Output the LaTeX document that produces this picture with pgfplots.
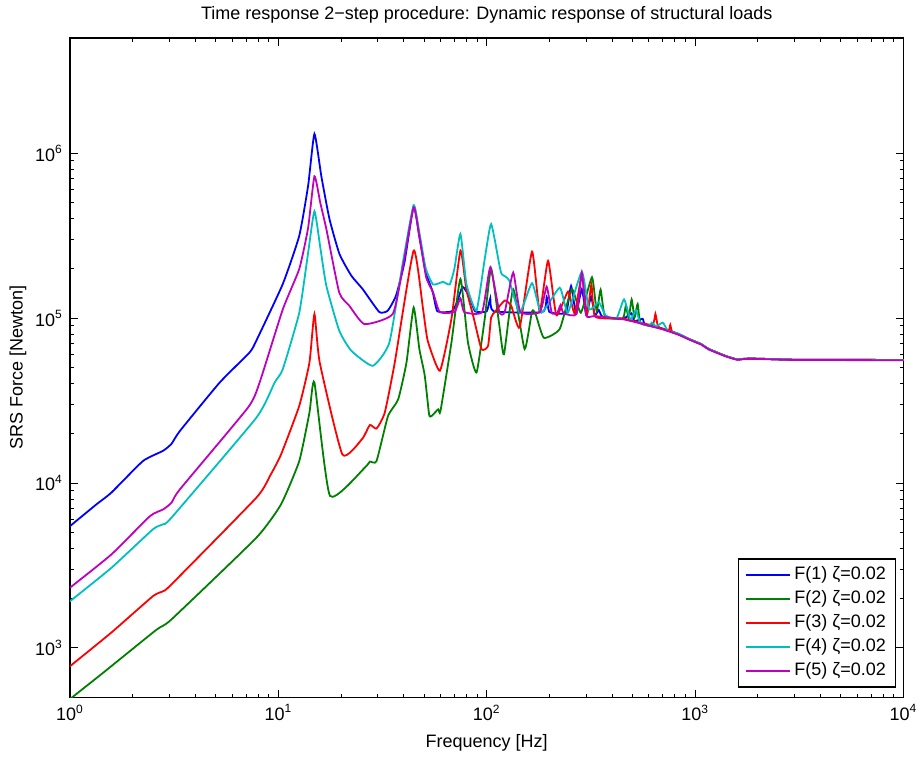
\documentclass[border=0pt]{standalone}
\usepackage{fontspec}
\setmainfont{Liberation Sans}
\usepackage{pgfplots}
\pgfplotsset{compat=1.18}
\definecolor{mblue}{rgb}{0,0,1}
\definecolor{mgreen}{rgb}{0,0.5,0}
\definecolor{mred}{rgb}{1,0,0}
\definecolor{mcyan}{rgb}{0,0.75,0.75}
\definecolor{mmag}{rgb}{0.75,0,0.75}
\begin{document}
\begin{tikzpicture}
\begin{loglogaxis}[
  name=ax,
  scale only axis,
  width=417pt, height=330pt,
  xmin=1, xmax=10000, ymin=500, ymax=5e6,
  font=\fontsize{9}{11}\selectfont,
  axis line style={line width=0.6pt},
  every tick/.style={black, line width=0.5pt},
  major tick length=4pt, minor tick length=2pt,
  tick align=inside, xtick pos=both, ytick pos=both,
  xtick={1,10,100,1000,10000},
  xticklabels={10\textsuperscript{0},10\textsuperscript{1},10\textsuperscript{2},10\textsuperscript{3},10\textsuperscript{4}},
  ytick={1000,10000,100000,1000000},
  yticklabels={10\textsuperscript{3},10\textsuperscript{4},10\textsuperscript{5},10\textsuperscript{6}},
  title={Time response 2\textminus step procedure: Dynamic response of structural loads},
  every axis title/.style={at={(axis description cs:0.5,1.0348)}, anchor=center},
  xlabel={Frequency [Hz]},
  xlabel style={at={(axis description cs:0.5,-0.0682)}, anchor=center},
  ylabel={SRS Force [Newton]},
  ylabel style={at={(axis description cs:-0.0624,0.5)}, anchor=center},
  legend cell align=left,
  legend style={at={(rel axis cs:0.9916,0.01515)}, anchor=south east, line width=0.6pt,
    draw=black, fill=white, row sep=0pt,
    nodes={inner ysep=1.35pt, text height=7pt, text depth=2.3pt}},
  legend image code/.code={\path (-3pt,0pt) -- (19pt,0pt); \draw[#1] (0pt,0pt) -- (15pt,0pt);},
  every axis plot/.append style={line width=0.9pt, smooth, tension=0.3},
]
\addplot[mblue] coordinates {(1,5480) (1.34,7430) (1.58,8750) (2.24,13600) (2.8,15700) (3.07,17300) (3.37,20700) (5.23,40700) (7.28,62000) (7.84,73000) (10.5,161000) (12.6,316000) (13.9,637000) (14.9,1310000) (16.1,720000) (17.6,399000) (19.65,245000) (22.4,181000) (25.4,150000) (30.5,109000) (33.5,111000) (36.7,137000) (40.3,218000) (44.6,476000) (47.5,310000) (51,190000) (55,145000) (58,110000) (68,110000) (72,125000) (76.6,155000) (82.5,135000) (88,110000) (100,110000) (104,132000) (108,110000) (185,109000) (194,134000) (200,109000) (240,108000) (254,157000) (268,107000) (286,150000) (300,106000) (317,135000) (330,104000) (345,112000) (360,102000) (450,99000) (495,107000) (510,96000) (560,99000) (575,92000) (700,86000) (828,80000) (933,74700) (1071,69500) (1164,65000) (1400,59000) (1589,56200) (1750,56800) (2000,56800) (3000,56000) (10000,55800)};
\addlegendentry{F(1) ζ=0.02}
\addplot[mgreen] coordinates {(1,490) (1.44,706) (2.6,1290) (3.07,1490) (7.84,4660) (10.3,7430) (12.6,13600) (14.1,26700) (14.9,40700) (17.7,8360) (26.0,12400) (27.5,13500) (29.6,13600) (33.6,25500) (37.6,32200) (41.2,53800) (44.6,116000) (47.5,65000) (50.4,45000) (52.9,26100) (54.3,25500) (58.5,28000) (60,27400) (67.7,71000) (74.8,173000) (81.3,71000) (89.3,46800) (97.8,99000) (105,200000) (115,90000) (121,60400) (134,150000) (152,65000) (165,110000) (172,105000) (188,76000) (224,86000) (256,150000) (283,108000) (320,177000) (337,110000) (352,149000) (370,102000) (450,100000) (465,119000) (480,100000) (496,130000) (512,101000) (530,122000) (550,93000) (700,86500) (828,80500) (933,75000) (1071,69500) (1164,65000) (1400,59000) (1589,56200) (1750,56800) (2000,56800) (3000,56000) (10000,55800)};
\addlegendentry{F(2) ζ=0.02}
\addplot[mred] coordinates {(1,775) (1.58,1240) (2.5,2060) (2.8,2210) (3.07,2430) (7.84,8150) (9.1,11000) (10.3,14900) (12.6,29400) (14.1,53800) (14.9,106000) (15.8,53800) (20.3,14900) (25.3,18600) (27.5,22500) (29.6,21400) (32.4,26700) (36.2,53800) (44.6,257000) (49.5,113000) (52.1,73000) (59.6,48000) (67.7,99000) (74.8,257000) (79.8,150000) (86,104000) (94.4,64900) (101.5,68000) (105,101000) (110,110000) (122,128000) (131,119000) (144,88000) (165,253000) (179.5,110000) (197,223000) (216,104000) (245.6,145000) (264,107000) (286,181000) (303,105000) (318,160000) (332,102000) (450,99500) (620,91000) (645,106000) (665,89000) (745,84000) (760,91000) (775,83000) (828,80500) (933,74700) (1071,69500) (1164,65000) (1400,59000) (1589,56200) (1750,56800) (2000,56800) (3000,56000) (10000,55800)};
\addlegendentry{F(3) ζ=0.02}
\addplot[mcyan] coordinates {(1,1920) (1.58,3060) (2.5,5240) (2.8,5630) (3.07,6170) (7.84,24900) (9.6,40700) (10.5,49000) (12.6,108000) (13.9,250000) (14.9,445000) (15.9,268000) (17.0,157000) (19.6,84000) (22.4,63400) (28.4,51400) (34.1,71000) (39.6,218000) (44.6,485000) (47.5,330000) (51,200000) (55.3,160000) (61.7,166000) (66.4,160000) (70,200000) (74.8,324000) (80,160000) (89.3,111000) (97.8,228000) (105,372000) (115,210000) (118,185000) (128,170000) (144,108000) (165,163000) (183,108000) (224,153000) (245,108000) (286,191000) (310,113000) (345,125000) (372,104000) (420,100000) (456,130000) (490,98000) (520,112000) (545,94000) (600,90000) (620,94000) (650,89000) (700,94000) (740,84000) (828,80500) (933,74700) (1071,69500) (1164,65000) (1400,59000) (1589,56200) (1750,56800) (2000,56800) (3000,56000) (10000,55800)};
\addlegendentry{F(4) ζ=0.02}
\addplot[mmag] coordinates {(1,2320) (1.58,3690) (2.42,6300) (2.8,6920) (3.07,7600) (3.37,9160) (7.15,28700) (8.13,40700) (10.5,113000) (12.6,199000) (13.9,354000) (14.9,725000) (15.9,500000) (17.0,347000) (19.6,143000) (21.9,119000) (25.9,92000) (35.4,106000) (40,220000) (44.6,470000) (47.5,316000) (51.2,177000) (55.3,143000) (59.5,109000) (70,109000) (74.8,132000) (78,109000) (95,109000) (104,203000) (115,109000) (122,109000) (134,189000) (145,109000) (180,109000) (194,155000) (205,108000) (218,107500) (226,120000) (234,107000) (270,106000) (286,189000) (300,104000) (330,103000) (450,98500) (573,91500) (700,85500) (828,79500) (933,74300) (1071,69000) (1164,64500) (1400,58700) (1589,56000) (1750,56600) (2000,56600) (3000,55800) (10000,55600)};
\addlegendentry{F(5) ζ=0.02}
\end{loglogaxis}
\path ([shift={(-35pt,-31.5pt)}]ax.south west) rectangle ([shift={(10pt,17.5pt)}]ax.north east);
\end{tikzpicture}
\end{document}
